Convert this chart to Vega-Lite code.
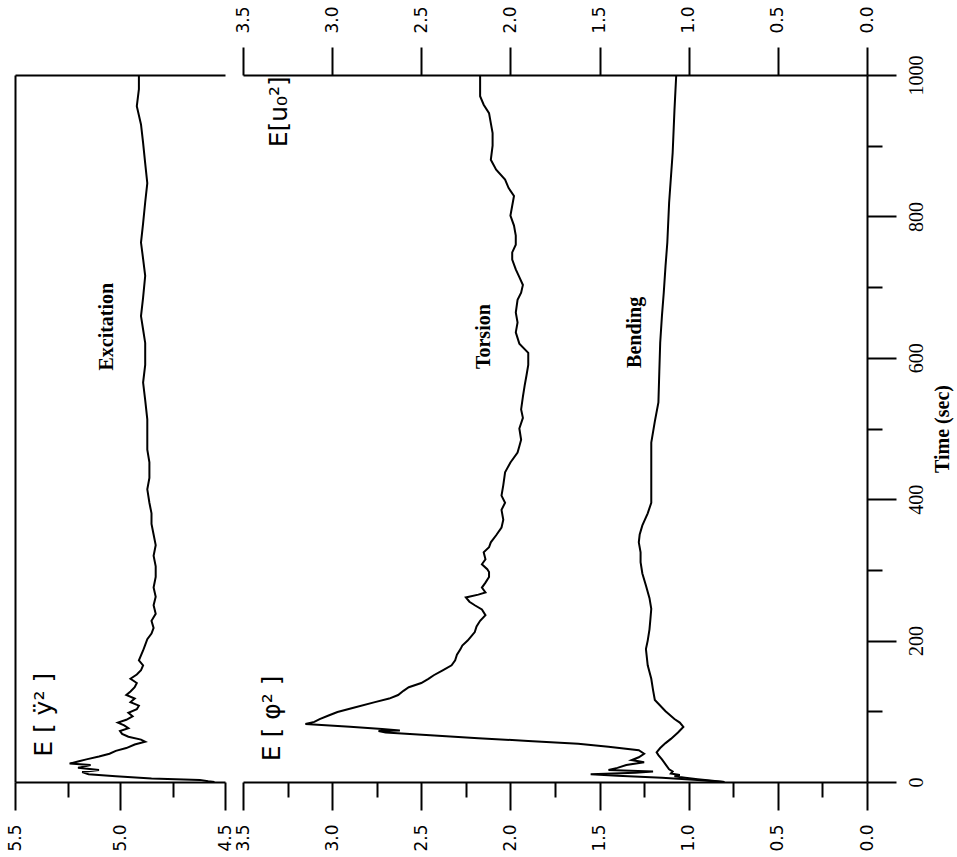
{
  "$schema": "https://vega.github.io/schema/vega-lite/v6.json",
  "background": "white",
  "padding": {"left": 6, "top": 5, "right": 5, "bottom": 5},
  "config": {
    "view": {"stroke": null},
    "axis": {"domainColor": "black", "domainWidth": 2, "tickColor": "black", "tickWidth": 2, "labelColor": "black", "titleColor": "black", "grid": false, "labelFlush": false, "labelOverlap": false, "labelBound": false}
  },
  "spacing": 18,
  "bounds": "flush",
  "datasets": {
    "excitation": [
      {"t": 0, "v": 4.55}, {"t": 1, "v": 4.58}, {"t": 3, "v": 4.62}, {"t": 5, "v": 4.85}, {"t": 8, "v": 5.02}, {"t": 11, "v": 5.15}, {"t": 14, "v": 5.18}, {"t": 17, "v": 5.10}, {"t": 20, "v": 5.20}, {"t": 24, "v": 5.14}, {"t": 26, "v": 5.24}, {"t": 29, "v": 5.20}, {"t": 32, "v": 5.16}, {"t": 36, "v": 5.10}, {"t": 40, "v": 5.05}, {"t": 44, "v": 5.02}, {"t": 48, "v": 4.97}, {"t": 53, "v": 4.93}, {"t": 57, "v": 4.88}, {"t": 60, "v": 4.90}, {"t": 64, "v": 4.96}, {"t": 68, "v": 4.99}, {"t": 72, "v": 5.00}, {"t": 76, "v": 4.96}, {"t": 80, "v": 4.98}, {"t": 84, "v": 5.01}, {"t": 88, "v": 4.97}, {"t": 93, "v": 4.94}, {"t": 98, "v": 4.96}, {"t": 103, "v": 4.92}, {"t": 108, "v": 4.91}, {"t": 113, "v": 4.95}, {"t": 118, "v": 4.93}, {"t": 123, "v": 4.97}, {"t": 128, "v": 4.95}, {"t": 134, "v": 4.93}, {"t": 140, "v": 4.92}, {"t": 146, "v": 4.95}, {"t": 152, "v": 4.92}, {"t": 158, "v": 4.90}, {"t": 165, "v": 4.89}, {"t": 172, "v": 4.91}, {"t": 179, "v": 4.90}, {"t": 186, "v": 4.89}, {"t": 194, "v": 4.88}, {"t": 202, "v": 4.87}, {"t": 210, "v": 4.85}, {"t": 218, "v": 4.84}, {"t": 228, "v": 4.85}, {"t": 238, "v": 4.83}, {"t": 250, "v": 4.84}, {"t": 262, "v": 4.83}, {"t": 275, "v": 4.84}, {"t": 290, "v": 4.83}, {"t": 305, "v": 4.83}, {"t": 320, "v": 4.84}, {"t": 335, "v": 4.83}, {"t": 350, "v": 4.84}, {"t": 365, "v": 4.85}, {"t": 380, "v": 4.85}, {"t": 395, "v": 4.86}, {"t": 414, "v": 4.87}, {"t": 430, "v": 4.86}, {"t": 452, "v": 4.86}, {"t": 470, "v": 4.87}, {"t": 490, "v": 4.87}, {"t": 513, "v": 4.87}, {"t": 540, "v": 4.88}, {"t": 565, "v": 4.89}, {"t": 590, "v": 4.88}, {"t": 621, "v": 4.88}, {"t": 640, "v": 4.89}, {"t": 659, "v": 4.90}, {"t": 685, "v": 4.89}, {"t": 716, "v": 4.88}, {"t": 740, "v": 4.89}, {"t": 763, "v": 4.90}, {"t": 790, "v": 4.89}, {"t": 820, "v": 4.88}, {"t": 847, "v": 4.87}, {"t": 875, "v": 4.88}, {"t": 904, "v": 4.89}, {"t": 930, "v": 4.90}, {"t": 956, "v": 4.92}, {"t": 980, "v": 4.91}, {"t": 1000, "v": 4.91}
    ],
    "response": [
      {"series": "Torsion", "t": 0, "v": 0.80}, {"series": "Torsion", "t": 3, "v": 0.95}, {"series": "Torsion", "t": 6, "v": 1.15}, {"series": "Torsion", "t": 9, "v": 1.40}, {"series": "Torsion", "t": 11, "v": 1.55}, {"series": "Torsion", "t": 13, "v": 1.30}, {"series": "Torsion", "t": 15, "v": 1.20}, {"series": "Torsion", "t": 17, "v": 1.45}, {"series": "Torsion", "t": 20, "v": 1.40}, {"series": "Torsion", "t": 24, "v": 1.35}, {"series": "Torsion", "t": 28, "v": 1.25}, {"series": "Torsion", "t": 31, "v": 1.32}, {"series": "Torsion", "t": 35, "v": 1.28}, {"series": "Torsion", "t": 40, "v": 1.25}, {"series": "Torsion", "t": 45, "v": 1.28}, {"series": "Torsion", "t": 50, "v": 1.45}, {"series": "Torsion", "t": 54, "v": 1.62}, {"series": "Torsion", "t": 58, "v": 1.90}, {"series": "Torsion", "t": 62, "v": 2.18}, {"series": "Torsion", "t": 66, "v": 2.45}, {"series": "Torsion", "t": 70, "v": 2.70}, {"series": "Torsion", "t": 72, "v": 2.74}, {"series": "Torsion", "t": 73, "v": 2.62}, {"series": "Torsion", "t": 75, "v": 2.72}, {"series": "Torsion", "t": 78, "v": 2.90}, {"series": "Torsion", "t": 82, "v": 3.15}, {"series": "Torsion", "t": 85, "v": 3.10}, {"series": "Torsion", "t": 89, "v": 3.07}, {"series": "Torsion", "t": 94, "v": 3.02}, {"series": "Torsion", "t": 99, "v": 2.97}, {"series": "Torsion", "t": 105, "v": 2.88}, {"series": "Torsion", "t": 113, "v": 2.76}, {"series": "Torsion", "t": 118, "v": 2.68}, {"series": "Torsion", "t": 123, "v": 2.63}, {"series": "Torsion", "t": 129, "v": 2.60}, {"series": "Torsion", "t": 134, "v": 2.57}, {"series": "Torsion", "t": 140, "v": 2.50}, {"series": "Torsion", "t": 146, "v": 2.46}, {"series": "Torsion", "t": 151, "v": 2.43}, {"series": "Torsion", "t": 158, "v": 2.38}, {"series": "Torsion", "t": 165, "v": 2.33}, {"series": "Torsion", "t": 172, "v": 2.31}, {"series": "Torsion", "t": 180, "v": 2.30}, {"series": "Torsion", "t": 188, "v": 2.28}, {"series": "Torsion", "t": 193, "v": 2.27}, {"series": "Torsion", "t": 200, "v": 2.24}, {"series": "Torsion", "t": 206, "v": 2.22}, {"series": "Torsion", "t": 212, "v": 2.20}, {"series": "Torsion", "t": 220, "v": 2.19}, {"series": "Torsion", "t": 228, "v": 2.17}, {"series": "Torsion", "t": 236, "v": 2.14}, {"series": "Torsion", "t": 244, "v": 2.16}, {"series": "Torsion", "t": 250, "v": 2.20}, {"series": "Torsion", "t": 255, "v": 2.23}, {"series": "Torsion", "t": 261, "v": 2.25}, {"series": "Torsion", "t": 265, "v": 2.18}, {"series": "Torsion", "t": 268, "v": 2.14}, {"series": "Torsion", "t": 275, "v": 2.16}, {"series": "Torsion", "t": 282, "v": 2.14}, {"series": "Torsion", "t": 290, "v": 2.12}, {"series": "Torsion", "t": 297, "v": 2.12}, {"series": "Torsion", "t": 301, "v": 2.13}, {"series": "Torsion", "t": 308, "v": 2.16}, {"series": "Torsion", "t": 315, "v": 2.14}, {"series": "Torsion", "t": 325, "v": 2.15}, {"series": "Torsion", "t": 332, "v": 2.12}, {"series": "Torsion", "t": 339, "v": 2.11}, {"series": "Torsion", "t": 349, "v": 2.08}, {"series": "Torsion", "t": 360, "v": 2.05}, {"series": "Torsion", "t": 371, "v": 2.04}, {"series": "Torsion", "t": 385, "v": 2.05}, {"series": "Torsion", "t": 395, "v": 2.03}, {"series": "Torsion", "t": 405, "v": 2.05}, {"series": "Torsion", "t": 420, "v": 2.04}, {"series": "Torsion", "t": 438, "v": 2.03}, {"series": "Torsion", "t": 452, "v": 2.00}, {"series": "Torsion", "t": 466, "v": 1.96}, {"series": "Torsion", "t": 475, "v": 1.95}, {"series": "Torsion", "t": 484, "v": 1.94}, {"series": "Torsion", "t": 500, "v": 1.95}, {"series": "Torsion", "t": 515, "v": 1.93}, {"series": "Torsion", "t": 527, "v": 1.94}, {"series": "Torsion", "t": 545, "v": 1.93}, {"series": "Torsion", "t": 561, "v": 1.92}, {"series": "Torsion", "t": 575, "v": 1.91}, {"series": "Torsion", "t": 590, "v": 1.90}, {"series": "Torsion", "t": 607, "v": 1.90}, {"series": "Torsion", "t": 620, "v": 1.95}, {"series": "Torsion", "t": 636, "v": 1.97}, {"series": "Torsion", "t": 650, "v": 1.96}, {"series": "Torsion", "t": 664, "v": 1.97}, {"series": "Torsion", "t": 682, "v": 1.96}, {"series": "Torsion", "t": 692, "v": 1.94}, {"series": "Torsion", "t": 703, "v": 1.93}, {"series": "Torsion", "t": 714, "v": 1.95}, {"series": "Torsion", "t": 725, "v": 1.97}, {"series": "Torsion", "t": 739, "v": 1.99}, {"series": "Torsion", "t": 749, "v": 1.99}, {"series": "Torsion", "t": 760, "v": 1.97}, {"series": "Torsion", "t": 773, "v": 1.97}, {"series": "Torsion", "t": 787, "v": 1.98}, {"series": "Torsion", "t": 801, "v": 2.00}, {"series": "Torsion", "t": 815, "v": 1.99}, {"series": "Torsion", "t": 829, "v": 1.98}, {"series": "Torsion", "t": 840, "v": 2.01}, {"series": "Torsion", "t": 852, "v": 2.03}, {"series": "Torsion", "t": 866, "v": 2.08}, {"series": "Torsion", "t": 880, "v": 2.11}, {"series": "Torsion", "t": 900, "v": 2.10}, {"series": "Torsion", "t": 918, "v": 2.10}, {"series": "Torsion", "t": 932, "v": 2.11}, {"series": "Torsion", "t": 946, "v": 2.12}, {"series": "Torsion", "t": 958, "v": 2.15}, {"series": "Torsion", "t": 970, "v": 2.17}, {"series": "Torsion", "t": 985, "v": 2.17}, {"series": "Torsion", "t": 1000, "v": 2.17},
      {"series": "Bending", "t": 0, "v": 0.80}, {"series": "Bending", "t": 2, "v": 0.88}, {"series": "Bending", "t": 4, "v": 0.95}, {"series": "Bending", "t": 6, "v": 1.02}, {"series": "Bending", "t": 8, "v": 1.08}, {"series": "Bending", "t": 10, "v": 1.05}, {"series": "Bending", "t": 12, "v": 1.10}, {"series": "Bending", "t": 15, "v": 1.09}, {"series": "Bending", "t": 18, "v": 1.11}, {"series": "Bending", "t": 25, "v": 1.13}, {"series": "Bending", "t": 32, "v": 1.15}, {"series": "Bending", "t": 38, "v": 1.17}, {"series": "Bending", "t": 42, "v": 1.18}, {"series": "Bending", "t": 48, "v": 1.16}, {"series": "Bending", "t": 55, "v": 1.13}, {"series": "Bending", "t": 61, "v": 1.10}, {"series": "Bending", "t": 70, "v": 1.06}, {"series": "Bending", "t": 78, "v": 1.03}, {"series": "Bending", "t": 84, "v": 1.05}, {"series": "Bending", "t": 89, "v": 1.08}, {"series": "Bending", "t": 100, "v": 1.13}, {"series": "Bending", "t": 116, "v": 1.19}, {"series": "Bending", "t": 130, "v": 1.20}, {"series": "Bending", "t": 146, "v": 1.21}, {"series": "Bending", "t": 165, "v": 1.23}, {"series": "Bending", "t": 188, "v": 1.24}, {"series": "Bending", "t": 200, "v": 1.23}, {"series": "Bending", "t": 216, "v": 1.22}, {"series": "Bending", "t": 230, "v": 1.215}, {"series": "Bending", "t": 245, "v": 1.21}, {"series": "Bending", "t": 260, "v": 1.22}, {"series": "Bending", "t": 278, "v": 1.24}, {"series": "Bending", "t": 295, "v": 1.26}, {"series": "Bending", "t": 311, "v": 1.27}, {"series": "Bending", "t": 325, "v": 1.27}, {"series": "Bending", "t": 339, "v": 1.28}, {"series": "Bending", "t": 350, "v": 1.275}, {"series": "Bending", "t": 363, "v": 1.26}, {"series": "Bending", "t": 380, "v": 1.23}, {"series": "Bending", "t": 395, "v": 1.21}, {"series": "Bending", "t": 420, "v": 1.21}, {"series": "Bending", "t": 450, "v": 1.21}, {"series": "Bending", "t": 480, "v": 1.21}, {"series": "Bending", "t": 510, "v": 1.19}, {"series": "Bending", "t": 537, "v": 1.17}, {"series": "Bending", "t": 580, "v": 1.165}, {"series": "Bending", "t": 621, "v": 1.16}, {"series": "Bending", "t": 660, "v": 1.15}, {"series": "Bending", "t": 692, "v": 1.14}, {"series": "Bending", "t": 730, "v": 1.13}, {"series": "Bending", "t": 763, "v": 1.12}, {"series": "Bending", "t": 819, "v": 1.11}, {"series": "Bending", "t": 890, "v": 1.09}, {"series": "Bending", "t": 950, "v": 1.08}, {"series": "Bending", "t": 1000, "v": 1.07}
    ]
  },
  "hconcat": [
    {
      "width": 210,
      "height": 707,
      "layer": [
        {
          "data": {"name": "excitation"},
          "mark": {"type": "line", "color": "black", "strokeWidth": 2},
          "encoding": {
            "x": {
              "field": "v", "type": "quantitative",
              "scale": {"domain": [4.5, 5.5], "reverse": true, "nice": false, "zero": false},
              "axis": {
                "orient": "bottom", "title": null,
                "values": [4.5, 4.75, 5, 5.25, 5.5],
                "tickSize": {"condition": {"test": "datum.value*4 % 2 !== 0", "value": 15}, "value": 28},
                "labelExpr": "datum.value*4 % 2 === 0 ? format(datum.value, '.1f') : ''",
                "labelFont": "DejaVu Sans", "labelFontSize": 17, "labelPadding": 14, "labelAngle": 270, "labelAlign": "right", "labelBaseline": "middle"
              }
            },
            "y": {
              "field": "t", "type": "quantitative",
              "scale": {"domain": [0, 1000], "nice": false, "zero": false},
              "axis": {"orient": "left", "ticks": false, "labels": false, "title": null}
            },
            "order": {"field": "t", "type": "quantitative"}
          }
        },
        {
          "data": {"values": [{"label": "Excitation", "t": 644, "v": 5.06}]},
          "mark": {"type": "text", "angle": 270, "font": "Liberation Serif", "fontWeight": "bold", "fontSize": 20, "color": "black"},
          "encoding": {
            "x": {"field": "v", "type": "quantitative", "axis": {"orient": "top", "ticks": false, "labels": false, "title": null}},
            "y": {"field": "t", "type": "quantitative", "axis": null},
            "text": {"field": "label"}
          }
        },
        {
          "data": {"values": [{"label": "E [ ÿ² ]", "t": 95, "v": 5.36}]},
          "mark": {"type": "text", "angle": 270, "font": "DejaVu Sans", "fontSize": 25, "color": "black"},
          "encoding": {
            "x": {"field": "v", "type": "quantitative", "axis": null},
            "y": {"field": "t", "type": "quantitative", "axis": null},
            "text": {"field": "label"}
          }
        }
      ],
      "resolve": {"axis": {"x": "independent", "y": "independent"}}
    },
    {
      "width": 624,
      "height": 707,
      "layer": [
        {
          "data": {"name": "response"},
          "mark": {"type": "line", "color": "black", "strokeWidth": 2},
          "encoding": {
            "x": {
              "field": "v", "type": "quantitative",
              "scale": {"domain": [0, 3.5], "reverse": true, "nice": false, "zero": false},
              "axis": {
                "orient": "bottom", "title": null,
                "values": [0, 0.25, 0.5, 0.75, 1, 1.25, 1.5, 1.75, 2, 2.25, 2.5, 2.75, 3, 3.25, 3.5],
                "tickSize": {"condition": {"test": "datum.value*4 % 2 !== 0", "value": 15}, "value": 28},
                "labelExpr": "datum.value*4 % 2 === 0 ? format(datum.value, '.1f') : ''",
                "labelFont": "DejaVu Sans", "labelFontSize": 17, "labelPadding": 14, "labelAngle": 270, "labelAlign": "right", "labelBaseline": "middle"
              }
            },
            "y": {
              "field": "t", "type": "quantitative",
              "scale": {"domain": [0, 1000], "nice": false, "zero": false},
              "axis": {
                "orient": "right", "title": "Time (sec)",
                "values": [0, 100, 200, 300, 400, 500, 600, 700, 800, 900, 1000],
                "tickSize": {"condition": {"test": "datum.value % 200 !== 0", "value": 15}, "value": 29},
                "labelExpr": "datum.value % 200 === 0 ? format(datum.value, 'd') : ''",
                "labelFont": "Liberation Serif", "labelFontSize": 20, "labelPadding": 10, "labelAngle": 270, "labelAlign": "center", "labelBaseline": "top",
                "titleFont": "Liberation Serif", "titleFontWeight": "bold", "titleFontSize": 20, "titleAngle": 270, "titleBaseline": "top", "titlePadding": 6
              }
            },
            "detail": {"field": "series", "type": "nominal"},
            "order": {"field": "t", "type": "quantitative"}
          }
        },
        {
          "data": {"values": [{"label": "Torsion", "t": 630, "v": 2.15}, {"label": "Bending", "t": 636, "v": 1.30}]},
          "mark": {"type": "text", "angle": 270, "font": "Liberation Serif", "fontWeight": "bold", "fontSize": 20, "color": "black"},
          "encoding": {
            "x": {
              "field": "v", "type": "quantitative",
              "axis": {
                "orient": "top", "title": null,
                "values": [0, 0.5, 1, 1.5, 2, 2.5, 3, 3.5],
                "tickSize": 28, "format": ".1f",
                "labelFont": "DejaVu Sans", "labelFontSize": 17, "labelPadding": 14, "labelAngle": 270, "labelAlign": "left", "labelBaseline": "middle"
              }
            },
            "y": {"field": "t", "type": "quantitative", "axis": null},
            "text": {"field": "label"}
          }
        },
        {
          "data": {"values": [{"label": "E [ φ² ]", "t": 90, "v": 3.34}, {"label": "E[u₀²]", "t": 948, "v": 3.30}]},
          "mark": {"type": "text", "angle": 270, "font": "DejaVu Sans", "fontSize": 25, "color": "black"},
          "encoding": {
            "x": {"field": "v", "type": "quantitative", "axis": null},
            "y": {"field": "t", "type": "quantitative", "axis": null},
            "text": {"field": "label"}
          }
        }
      ],
      "resolve": {"axis": {"x": "independent", "y": "independent"}}
    }
  ]
}
